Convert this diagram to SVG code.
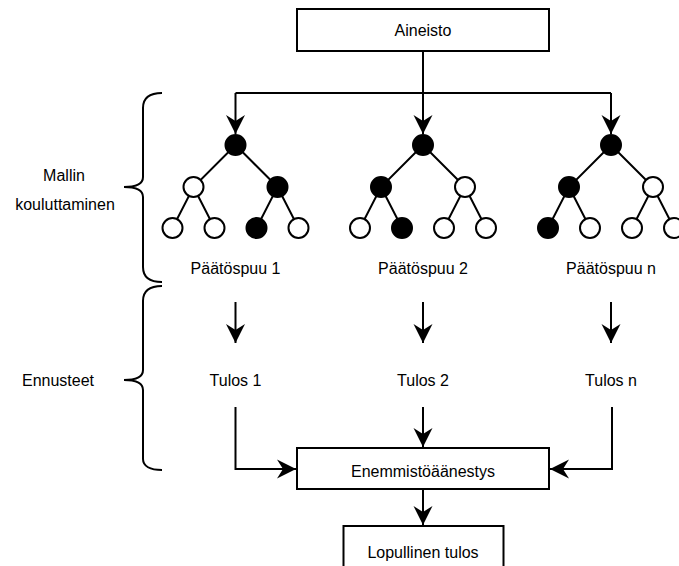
<svg xmlns="http://www.w3.org/2000/svg" width="679" height="566" viewBox="0 0 679 566">
<defs>
<style>
text{font-family:"Liberation Sans",Arial,sans-serif;font-size:16px;fill:#000;text-anchor:middle}
.box{fill:#fff;stroke:#000;stroke-width:2}
.ln{fill:none;stroke:#000;stroke-width:2}
.w{fill:#fff;stroke:#000;stroke-width:2}
.b{fill:#000;stroke:#000;stroke-width:2}
</style>
<marker id="arr" markerUnits="userSpaceOnUse" viewBox="-20 -10 21 20" refX="0" refY="0" markerWidth="21" markerHeight="20" orient="auto">
<path d="M0,0 L-19,-9.5 L-13,0 L-19,9.5 Z" fill="#000"/>
</marker>
</defs>
<rect width="679" height="566" fill="#fff"/>
<g id="connectors">
<path class="ln" d="M423,51 L423,134" marker-end="url(#arr)"/>
<path class="ln" d="M235.5,93 L611,93"/>
<path class="ln" d="M235.5,93 L235.5,134" marker-end="url(#arr)"/>
<path class="ln" d="M611,93 L611,134" marker-end="url(#arr)"/>
<path class="ln" d="M235.5,302 L235.5,343" marker-end="url(#arr)"/>
<path class="ln" d="M423,302 L423,343" marker-end="url(#arr)"/>
<path class="ln" d="M611,302 L611,343" marker-end="url(#arr)"/>
<path class="ln" d="M235.5,407 L235.5,469 L296,469" marker-end="url(#arr)"/>
<path class="ln" d="M423,407 L423,447" marker-end="url(#arr)"/>
<path class="ln" d="M612,407 L612,469 L550,469" marker-end="url(#arr)"/>
<path class="ln" d="M423,490 L423,525" marker-end="url(#arr)"/>
</g>
<g id="aineisto">
<rect class="box" x="297" y="9" width="252" height="42"/>
<text x="423" y="36">Aineisto</text>
</g>
<g id="brace-mallin">
<path class="ln" d="M162,93 C150,93 143,97 143,108 L143,177 C143,184 137,187 124,187 C137,187 143,190 143,197 L143,267 C143,278 150,282 162,282"/>
</g>
<g id="label-mallin">
<text x="64" y="181">Mallin</text>
<text x="65" y="210">kouluttaminen</text>
</g>
<g id="brace-ennusteet">
<path class="ln" d="M162,286 C150,286 143,290 143,301 L143,370 C143,377 137,380 124,380 C137,380 143,383 143,390 L143,459 C143,466 150,470 162,470"/>
</g>
<g id="label-ennusteet">
<text x="58" y="386">Ennusteet</text>
</g>
<g id="tree1">
<path class="ln" d="M235.5,145 L193.5,187 L172.5,228 M193.5,187 L214.5,228 M235.5,145 L277.5,187 L256.5,228 M277.5,187 L298.5,228"/>
<circle class="b" cx="235.5" cy="145" r="10"/>
<circle class="w" cx="193.5" cy="187" r="10"/>
<circle class="b" cx="277.5" cy="187" r="10"/>
<circle class="w" cx="172.5" cy="228" r="10"/>
<circle class="w" cx="214.5" cy="228" r="10"/>
<circle class="b" cx="256.5" cy="228" r="10"/>
<circle class="w" cx="298.5" cy="228" r="10"/>
<text x="235.5" y="274">Päätöspuu 1</text>
</g>
<g id="tree2">
<path class="ln" d="M423,145 L381,187 L360,228 M381,187 L402,228 M423,145 L465,187 L444,228 M465,187 L486,228"/>
<circle class="b" cx="423" cy="145" r="10"/>
<circle class="b" cx="381" cy="187" r="10"/>
<circle class="w" cx="465" cy="187" r="10"/>
<circle class="w" cx="360" cy="228" r="10"/>
<circle class="b" cx="402" cy="228" r="10"/>
<circle class="w" cx="444" cy="228" r="10"/>
<circle class="w" cx="486" cy="228" r="10"/>
<text x="423" y="274">Päätöspuu 2</text>
</g>
<g id="tree3">
<path class="ln" d="M611,145 L569,187 L548,228 M569,187 L590,228 M611,145 L653,187 L632,228 M653,187 L674,228"/>
<circle class="b" cx="611" cy="145" r="10"/>
<circle class="b" cx="569" cy="187" r="10"/>
<circle class="w" cx="653" cy="187" r="10"/>
<circle class="b" cx="548" cy="228" r="10"/>
<circle class="w" cx="590" cy="228" r="10"/>
<circle class="w" cx="632" cy="228" r="10"/>
<circle class="w" cx="674" cy="228" r="10"/>
<text x="611" y="274">Päätöspuu n</text>
</g>
<g id="tulos1"><text x="235.5" y="386">Tulos 1</text></g>
<g id="tulos2"><text x="423" y="386">Tulos 2</text></g>
<g id="tulosn"><text x="611" y="386">Tulos n</text></g>
<g id="enemmisto">
<rect class="box" x="297" y="448" width="252" height="41"/>
<text x="423" y="477">Enemmistöäänestys</text>
</g>
<g id="lopullinen">
<rect class="box" x="343.5" y="526" width="160" height="50"/>
<text x="423" y="558">Lopullinen tulos</text>
</g>
</svg>
